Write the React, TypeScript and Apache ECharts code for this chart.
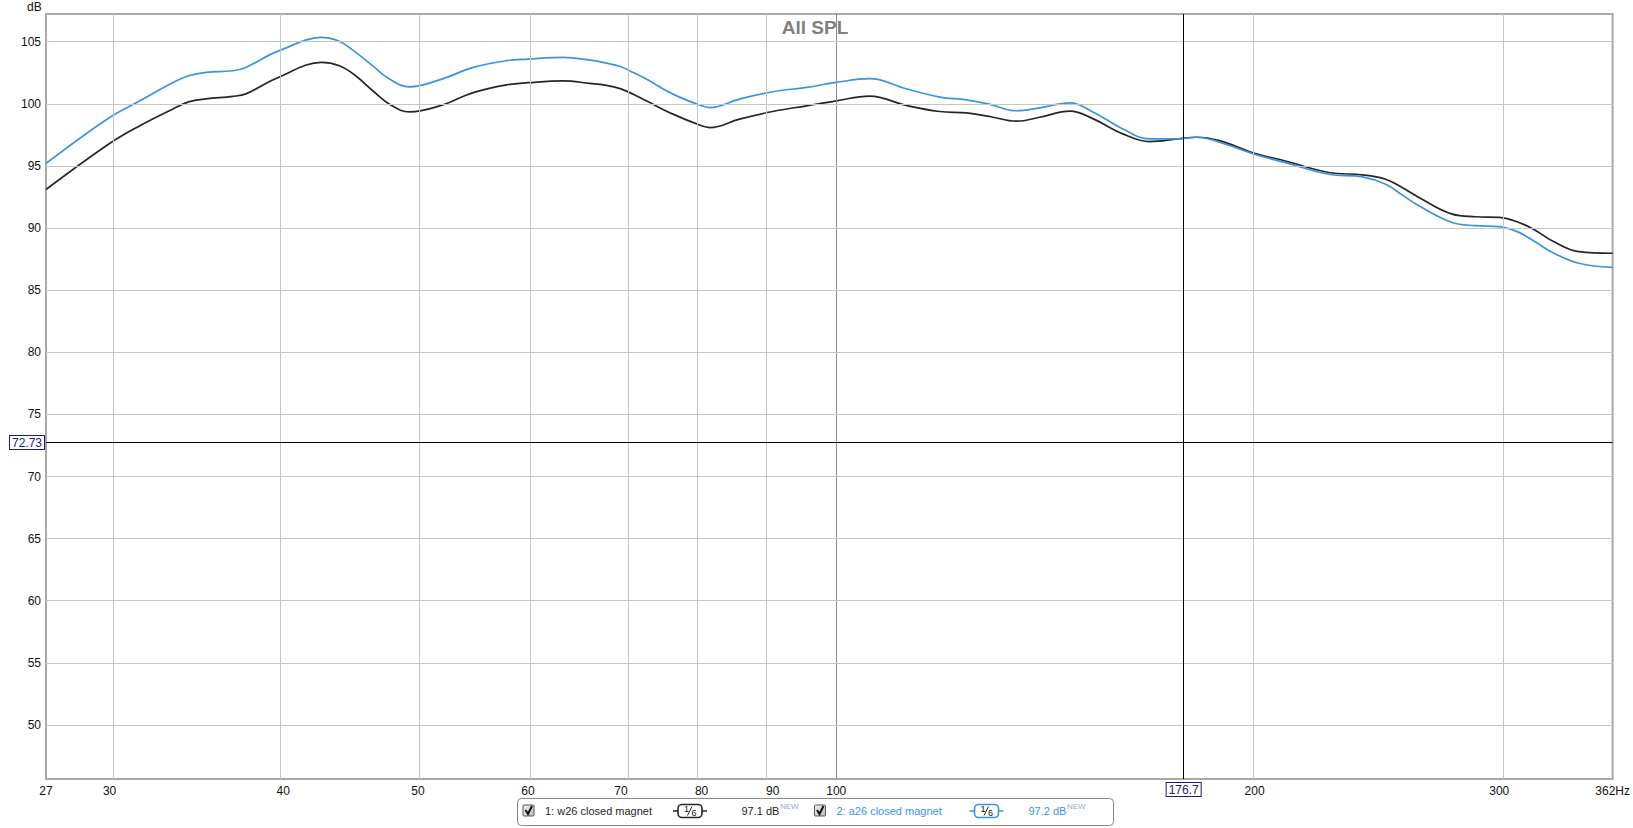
import React, { useEffect, useRef } from "react";
import * as echarts from "echarts";

// ---- data (frequency in Hz, level in dB) ----
const freqs = [
  27, 30, 31.5, 33.3, 34.2, 35.2, 36.8, 37.6, 39.2, 40, 41.5, 42.6, 43.9, 45.1, 46.4, 47.7,
  49.3, 51.9, 54.8, 57.9, 60, 63.6, 66.5, 68.2, 70, 71.5, 73, 76.3, 80, 81.1, 85.2, 90, 95.2, 100,
  105.7, 112.3, 118.7, 124.1, 129, 134.8, 140.1, 147.3, 153.1, 160.8, 168.1, 176.2, 181.6,
  188.7, 200, 210.5, 226.1, 239.1, 248.5, 255.4, 262.6, 277.5, 288.4, 300, 309.9, 318.8, 327.4,
  342.3, 362,
];
const splW26 = [
  93.1, 96.8, 98.2, 99.57, 100.16, 100.4, 100.6, 100.8, 101.85, 102.3, 103.1, 103.33, 103.06,
  102.26, 101.05, 99.97, 99.35, 99.85, 100.9, 101.53, 101.7, 101.85, 101.64, 101.5, 101.2,
  100.75, 100.24, 99.17, 98.23, 98.09, 98.77, 99.38, 99.84, 100.24, 100.62, 99.87, 99.38, 99.27,
  98.98, 98.6, 98.92, 99.41, 98.79, 97.58, 96.96, 97.18, 97.31, 97.04, 96.02, 95.4, 94.47,
  94.28, 93.93, 93.26, 92.46, 91.12, 90.91, 90.86, 90.45, 89.79, 88.98, 88.1, 87.97,
];
const splA26 = [
  95.2, 98.9, 100.2, 101.7, 102.26, 102.53, 102.66, 102.93, 104.0, 104.4, 105.13, 105.35,
  105.03, 104.14, 103.06, 101.99, 101.37, 101.95, 102.93, 103.47, 103.6, 103.74, 103.52, 103.3,
  102.98, 102.5, 101.99, 100.78, 99.84, 99.7, 100.38, 100.97, 101.32, 101.72, 102.02, 101.21,
  100.54, 100.32, 99.95, 99.44, 99.68, 100.08, 99.33, 97.98, 97.18, 97.18, 97.31, 96.91, 95.94,
  95.27, 94.33, 94.12, 93.53, 92.67, 91.79, 90.45, 90.19, 90.11, 89.65, 88.85, 88.05, 87.17,
  86.84,
];

const xTickFreqs = [27, 30, 40, 50, 60, 70, 80, 90, 100, 200, 300, 362];
const xTickLabels = ["27", "30", "40", "50", "60", "70", "80", "90", "100", "200", "300", "362Hz"];
const xGridFreqs = [30, 40, 50, 60, 70, 80, 90, 200, 300];
const xMajorGridFreqs = [100];
const yTicks = [50, 55, 60, 65, 70, 75, 80, 85, 90, 95, 100, 105];
const xRange = [27, 362];
const yRange = [45.65, 107.23];
const cursorFreq = 176.7;
const cursorLevel = 72.73;
const titleText = "All SPL";
const yUnit = "dB";
const legendNames = ["1: w26 closed magnet", "2: a26 closed magnet"];
const legendLevels = ["97.1 dB", "97.2 dB"];
const legendTag = "NEW";

const BLACK = "#262626";
const BLUE = "#3a95de";
const NAVY = "#1c1c78";
const FONT = "'Liberation Sans', Arial, sans-serif";

const lg = (f: number) => Math.log10(f);

function legendItem(x0: number, idx: number, color: string) {
  const cy = 811;
  const els: any[] = [];
  els.push({
    type: "rect",
    shape: { x: x0, y: cy - 6, width: 11, height: 11, r: 1 },
    style: {
      fill: new echarts.graphic.LinearGradient(0, 0, 1, 1, [
        { offset: 0, color: "#f4f4f4" },
        { offset: 1, color: "#bcbcbc" },
      ]),
      stroke: "#555",
      lineWidth: 1,
    },
  });
  els.push({
    type: "polyline",
    shape: { points: [[x0 + 2.5, cy - 1], [x0 + 5, cy + 3], [x0 + 9, cy - 5]] },
    style: { stroke: "#111", lineWidth: 2, fill: null },
  });
  els.push({
    type: "text",
    x: x0 + 22,
    y: cy,
    style: { text: legendNames[idx], fill: color, font: `11px ${FONT}`, verticalAlign: "middle" },
  });
  return els;
}

function legendSymbol(x0: number, color: string) {
  const cy = 811;
  return [
    { type: "line", shape: { x1: x0, y1: cy, x2: x0 + 34, y2: cy }, style: { stroke: color, lineWidth: 1.6 } },
    {
      type: "rect",
      shape: { x: x0 + 5, y: cy - 6.5, width: 24, height: 13, r: 4 },
      style: { fill: "#fff", stroke: color, lineWidth: 1.6 },
    },
    { type: "text", x: x0 + 13.5, y: cy - 2.5, style: { text: "1", fill: "#111", font: `9px ${FONT}`, align: "center", verticalAlign: "middle" } },
    { type: "line", shape: { x1: x0 + 14.5, y1: cy + 4.5, x2: x0 + 19, y2: cy - 4.5 }, style: { stroke: "#111", lineWidth: 0.9 } },
    { type: "text", x: x0 + 21, y: cy + 2, style: { text: "6", fill: "#111", font: `9px ${FONT}`, align: "center", verticalAlign: "middle" } },
  ];
}

function legendLevel(x0: number, idx: number, color: string) {
  const cy = 811;
  return [
    { type: "text", x: x0, y: cy, style: { text: legendLevels[idx], fill: color, font: `11px ${FONT}`, verticalAlign: "middle" } },
    { type: "text", x: x0 + 38.5, y: cy - 5, style: { text: legendTag, fill: "#9aa4dc", font: `8px ${FONT}`, verticalAlign: "middle" } },
  ];
}

export default function App() {
  const ref = useRef<HTMLDivElement>(null);

  useEffect(() => {
    if (!ref.current) return;
    const chart = echarts.init(ref.current, undefined, { renderer: "svg" });

    const dataW = freqs.map((f, i) => [lg(f), splW26[i]]);
    const dataA = freqs.map((f, i) => [lg(f), splA26[i]]);

    const gridLines: any[] = [
      ...xGridFreqs.map((f) => ({ xAxis: lg(f), lineStyle: { color: "#c6c6c6", width: 1, type: "solid" } })),
      ...xMajorGridFreqs.map((f) => ({ xAxis: lg(f), lineStyle: { color: "#8c8c8c", width: 1, type: "solid" } })),
      ...yTicks.map((v) => ({ yAxis: v, lineStyle: { color: "#c6c6c6", width: 1, type: "solid" } })),
    ];

    const boxLabel = {
      show: true,
      position: "start",
      color: NAVY,
      fontSize: 12,
      fontFamily: FONT,
      backgroundColor: "#fff",
      borderColor: NAVY,
      borderWidth: 1,
      padding: [1, 2, 0, 2],
    };

    const option: any = {
      animation: false,
      backgroundColor: "#fff",
      grid: {
        left: 46,
        right: 20,
        top: 14,
        bottom: 49,
        show: true,
        borderColor: "#a9a9a9",
        borderWidth: 2,
        backgroundColor: "#fff",
      },
      xAxis: {
        type: "value",
        min: lg(xRange[0]),
        max: lg(xRange[1]),
        axisLine: { show: false },
        axisTick: { show: false },
        splitLine: { show: false },
        axisLabel: {
          customValues: xTickFreqs.map(lg),
          margin: 6,
          color: "#111",
          fontSize: 12,
          fontFamily: FONT,
          showMinLabel: true,
          showMaxLabel: true,
          hideOverlap: false,
          formatter: (v: number) => {
            const i = xTickFreqs.findIndex((f) => Math.abs(lg(f) - v) < 1e-6);
            return i >= 0 ? xTickLabels[i] : "";
          },
        },
      },
      yAxis: {
        type: "value",
        min: yRange[0],
        max: yRange[1],
        axisLine: { show: false },
        axisTick: { show: false },
        splitLine: { show: false },
        axisLabel: {
          customValues: yTicks,
          margin: 5,
          color: "#111",
          fontSize: 12,
          fontFamily: FONT,
        },
      },
      graphic: [
        {
          type: "text",
          x: 815,
          y: 27,
          style: { text: titleText, fill: "#808080", font: `bold 19px ${FONT}`, align: "center", verticalAlign: "middle" },
        },
        {
          type: "text",
          x: 27,
          y: 7,
          style: { text: yUnit, fill: "#111", font: `12px ${FONT}`, verticalAlign: "middle" },
        },
        {
          type: "rect",
          shape: { x: 517.5, y: 798.5, width: 596, height: 27, r: 4 },
          style: { fill: "#fff", stroke: "#8a8a8a", lineWidth: 1 },
        },
        ...legendItem(523, 0, BLACK),
        ...legendSymbol(673, BLACK),
        ...legendLevel(741.5, 0, BLACK),
        ...legendItem(814.5, 1, BLUE),
        ...legendSymbol(969.5, BLUE),
        ...legendLevel(1028.5, 1, BLUE),
      ],
      series: [
        {
          type: "line",
          name: "grid",
          data: dataW,
          showSymbol: false,
          silent: true,
          z: 1,
          lineStyle: { opacity: 0, width: 0 },
          markLine: {
            silent: true,
            symbol: "none",
            animation: false,
            label: { show: false },
            data: gridLines,
          },
        },
        {
          type: "line",
          name: legendNames[0],
          data: dataW,
          showSymbol: false,
          smooth: 0.4,
          z: 3,
          lineStyle: { color: BLACK, width: 1.7 },
          itemStyle: { color: BLACK },
        },
        {
          type: "line",
          name: legendNames[1],
          data: dataA,
          showSymbol: false,
          smooth: 0.4,
          z: 4,
          lineStyle: { color: BLUE, width: 1.7 },
          itemStyle: { color: BLUE },
        },
        {
          type: "line",
          name: "cursor",
          data: dataW,
          showSymbol: false,
          silent: true,
          z: 5,
          lineStyle: { opacity: 0, width: 0 },
          markLine: {
            silent: true,
            symbol: "none",
            animation: false,
            data: [
              {
                xAxis: lg(cursorFreq),
                lineStyle: { color: "#000", width: 1, type: "solid" },
                label: { ...boxLabel, distance: 4, formatter: String(cursorFreq) },
              },
              {
                yAxis: cursorLevel,
                lineStyle: { color: "#000", width: 1, type: "solid" },
                label: { ...boxLabel, distance: 2, formatter: String(cursorLevel) },
              },
            ],
          },
        },
      ],
    };

    chart.setOption(option);
    return () => chart.dispose();
  }, []);

  return (
    <div
      ref={ref}
      style={{ position: "absolute", left: 0, top: 0, width: 1633, height: 828, background: "#fff" }}
    />
  );
}
